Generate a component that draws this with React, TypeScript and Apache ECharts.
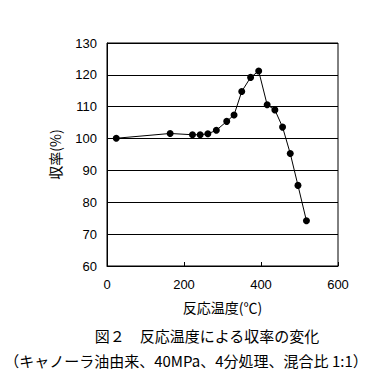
import React, { useEffect, useRef } from "react";
import * as echarts from "echarts";

const temperatures = [24, 164, 222, 242, 262, 284, 311, 330, 350, 373, 394, 416, 436, 456, 476, 496, 518];
const yields = [100.1, 101.6, 101.2, 101.2, 101.5, 102.6, 105.4, 107.4, 114.8, 119.2, 121.2, 110.6, 109.0, 103.6, 95.3, 85.3, 74.2];
const xTicks = { min: 0, max: 600, interval: 200 };
const yTicks = { min: 60, max: 130, interval: 10 };
const xName = "反応温度(℃)";
const yName = "収率(%)";
const caption1 = "図２　反応温度による収率の変化";
const caption2 = "（キャノーラ油由来、40MPa、4分処理、混合比 1:1）";

export default function App() {
  const ref = useRef<HTMLDivElement>(null);
  useEffect(() => {
    if (!ref.current) return;
    const chart = echarts.init(ref.current, null, { renderer: "svg" });
    const font = "'Liberation Sans', Arial, 'Noto Sans CJK JP', sans-serif";
    const cjk = "'Noto Sans CJK JP', sans-serif";
    chart.setOption({
      animation: false,
      backgroundColor: "#ffffff",
      grid: {
        left: 107,
        right: 36,
        top: 43,
        bottom: 113,
        show: true,
        borderColor: "#000",
        borderWidth: 1,
        backgroundColor: "transparent",
      },
      xAxis: {
        type: "value",
        min: xTicks.min,
        max: xTicks.max,
        interval: xTicks.interval,
        name: xName,
        nameLocation: "middle",
        nameGap: 34,
        nameTextStyle: { color: "#000", fontSize: 14, fontFamily: cjk },
        axisLine: { show: true, lineStyle: { color: "#000", width: 1 } },
        axisTick: { show: true, inside: true, length: 4, lineStyle: { color: "#000" } },
        axisLabel: { color: "#000", fontSize: 13, fontFamily: font, margin: 12 },
        splitLine: { show: false },
      },
      yAxis: {
        type: "value",
        min: yTicks.min,
        max: yTicks.max,
        interval: yTicks.interval,
        name: yName,
        nameLocation: "middle",
        nameRotate: 90,
        nameGap: 45,
        nameTextStyle: { color: "#000", fontSize: 14, fontFamily: cjk },
        axisLine: { show: true, lineStyle: { color: "#000", width: 1 } },
        axisTick: { show: false },
        axisLabel: { color: "#000", fontSize: 13, fontFamily: font, margin: 10 },
        splitLine: { show: true, lineStyle: { color: "#000", width: 1 } },
      },
      series: [
        {
          type: "line",
          data: temperatures.map((t, i) => [t, yields[i]]),
          symbol: "circle",
          symbolSize: 7,
          itemStyle: { color: "#000" },
          lineStyle: { color: "#000", width: 1 },
        },
      ],
      graphic: [
        {
          type: "text",
          x: 207,
          y: 335,
          style: { text: caption1, fill: "#000", fontSize: 15, fontFamily: cjk, align: "center", verticalAlign: "middle" },
        },
        {
          type: "text",
          x: 186,
          y: 360,
          style: { text: caption2, fill: "#000", fontSize: 15, fontFamily: cjk, align: "center", verticalAlign: "middle" },
        },
      ],
    });
    return () => chart.dispose();
  }, []);
  return <div ref={ref} style={{ position: "fixed", left: 0, top: 0, width: 374, height: 379 }} />;
}
